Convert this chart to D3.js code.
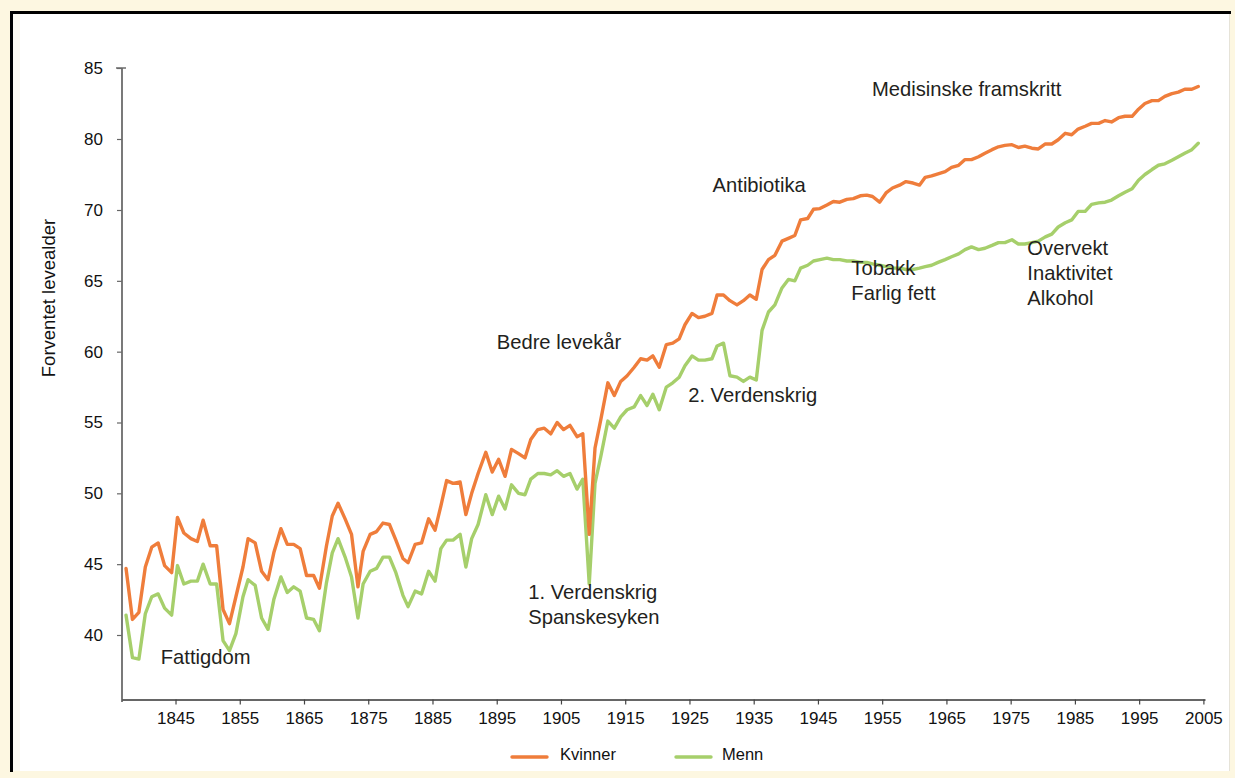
<!DOCTYPE html>
<html>
<head>
<meta charset="utf-8">
<script src="https://cdn.jsdelivr.net/npm/d3@7"></script>
<style>
  html, body { margin: 0; padding: 0; background: #fdf7e1; }
  svg { display: block; }
  text { font-family: "Liberation Sans", Arial, Helvetica, sans-serif; }
</style>
</head>
<body>
<svg id="chart" width="1235" height="778"></svg>
<script>
// ---------------- DATA ----------------
const years = [
  1837.3, 1838.3, 1839.3, 1840.3, 1841.3, 1842.3, 1843.3, 1844.4, 1845.3, 1846.3,
  1847.4, 1848.4, 1849.3, 1850.4, 1851.4, 1852.4, 1853.4, 1854.4, 1855.5, 1856.3,
  1857.4, 1858.4, 1859.4, 1860.3, 1861.4, 1862.4, 1863.4, 1864.4, 1865.4, 1866.5,
  1867.4,
  1868.5, 1869.4, 1870.3, 1871.4, 1872.4, 1873.4, 1874.2, 1875.3, 1876.3, 1877.3,
  1878.3, 1879.3, 1880.4, 1881.2, 1882.3, 1883.3, 1884.4, 1885.4, 1886.3, 1887.2,
  1888.2, 1889.3, 1890.2, 1891.1, 1892.1, 1893.3, 1894.3, 1895.3, 1896.3, 1897.3,
  1898.4, 1899.4, 1900.3, 1901.4, 1902.4, 1903.4, 1904.4, 1905.4, 1906.4, 1907.5,
  1908.4, 1909.4, 1910.3, 1911.2,
  1912.3, 1913.3, 1914.3, 1915.3, 1916.4, 1917.4, 1918.4, 1919.3, 1920.3, 1921.4,
  1922.4, 1923.4, 1924.3, 1925.4, 1926.4, 1927.4, 1928.5, 1929.3, 1930.3, 1931.3,
  1932.4, 1933.4, 1934.4, 1935.4, 1936.3, 1937.3, 1938.3, 1939.4, 1940.4, 1941.4,
  1942.3, 1943.4, 1944.3, 1945.3, 1946.4, 1947.4, 1948.4, 1949.5, 1950.5, 1951.6,
  1952.6, 1953.5, 1954.6, 1955.6, 1956.6, 1957.7, 1958.7, 1959.8, 1960.8, 1961.7,
  1962.7, 1963.7, 1964.8,
  1965.8, 1966.9, 1967.9, 1968.9, 1970.0, 1971.0, 1972.1, 1973.1, 1974.1, 1975.2,
  1976.2, 1977.2, 1978.3, 1979.3, 1980.4, 1981.4, 1982.4, 1983.5, 1984.5, 1985.5,
  1986.6, 1987.6, 1988.7, 1989.7, 1990.7, 1991.8, 1992.8, 1993.9, 1994.9, 1995.9,
  1997.0, 1998.0, 1999.0, 2000.1, 2001.1, 2002.1, 2003.2, 2004.2
];

const kvinner = [
  44.7, 41.1, 41.6, 44.8, 46.2, 46.5, 44.9, 44.4, 48.3, 47.2,
  46.8, 46.6, 48.1, 46.3, 46.3, 41.8, 40.8, 42.7, 44.8, 46.8,
  46.5, 44.5, 43.9, 45.8, 47.5, 46.4, 46.4, 46.1, 44.2, 44.2,
  43.3,
  46.3, 48.4, 49.3, 48.2, 47.1, 43.4, 45.9, 47.1, 47.3, 47.9,
  47.8, 46.7, 45.4, 45.1, 46.4, 46.5, 48.2, 47.4, 49.1, 50.9,
  50.7, 50.8, 48.5, 50.0, 51.4, 52.9, 51.5, 52.4, 51.2, 53.1,
  52.8, 52.5, 53.8, 54.5, 54.6, 54.2, 55.0, 54.5, 54.8, 54.0,
  54.2, 47.1, 53.2, 55.2,
  57.8, 56.9, 57.9, 58.3, 58.9, 59.5, 59.4, 59.7, 58.9, 60.5,
  60.6, 60.9, 61.9, 62.7, 62.4, 62.5, 62.7, 64.0, 64.0, 63.6,
  63.3, 63.6, 64.0, 63.7, 65.8, 66.5, 66.8, 67.8, 68.0, 68.2,
  69.3, 69.4, 70.1, 70.2, 70.7, 71.2, 71.1, 71.5, 71.6, 72.0,
  72.1, 71.9, 71.1, 72.4, 73.1, 73.5, 74.0, 73.8, 73.5, 74.6,
  74.8, 75.1, 75.4,
  76.0, 76.3, 77.1, 77.1, 77.5, 78.0, 78.5, 78.9, 79.1, 79.2,
  78.8, 79.0, 78.7, 78.6, 79.3, 79.3, 79.9, 80.4, 80.3, 80.7,
  80.9, 81.1, 81.1, 81.3, 81.2, 81.5, 81.6, 81.6, 82.1, 82.5,
  82.7, 82.7, 83.0, 83.2, 83.3, 83.5, 83.5, 83.7
];

const menn = [
  41.4, 38.4, 38.3, 41.5, 42.7, 42.9, 41.9, 41.4, 44.9, 43.6,
  43.8, 43.8, 45.0, 43.6, 43.6, 39.6, 38.9, 40.1, 42.7, 43.9,
  43.5, 41.2, 40.4, 42.5, 44.1, 43.0, 43.4, 43.1, 41.2, 41.1,
  40.3,
  43.7, 45.8, 46.8, 45.5, 44.1, 41.2, 43.6, 44.5, 44.7, 45.5,
  45.5, 44.4, 42.8, 42.0, 43.1, 42.9, 44.5, 43.8, 46.1, 46.7,
  46.7, 47.1, 44.8, 46.8, 47.8, 49.9, 48.5, 49.8, 48.9, 50.6,
  50.0, 49.9, 51.0, 51.4, 51.4, 51.3, 51.6, 51.2, 51.4, 50.3,
  51.0, 43.6, 50.7, 52.6,
  55.1, 54.6, 55.4, 55.9, 56.1, 56.9, 56.2, 57.0, 55.9, 57.5,
  57.8, 58.2, 59.0, 59.7, 59.4, 59.4, 59.5, 60.4, 60.6, 58.3,
  58.2, 57.9, 58.2, 58.0, 61.5, 62.8, 63.3, 64.5, 65.1, 65.0,
  65.9, 66.1, 66.4, 66.5, 66.6, 66.5, 66.5, 66.4, 66.4, 66.3,
  66.3, 66.2, 66.1, 66.0, 65.9, 65.9, 65.8, 65.8, 65.9, 66.0,
  66.1, 66.3, 66.5,
  66.7, 66.9, 67.2, 67.4, 67.2, 67.3, 67.5, 67.7, 67.7, 67.9,
  67.6, 67.6, 67.7, 67.8, 68.1, 68.3, 68.8, 69.1, 69.3, 69.9,
  69.9, 70.8, 71.0, 71.1, 71.4, 72.0, 72.5, 73.0, 74.2, 75.0,
  75.7, 76.3, 76.5, 77.0, 77.5, 78.0, 78.5, 79.4
];

const seriesNames = ["Kvinner", "Menn"];
const xTickYears = [1845, 1855, 1865, 1875, 1885, 1895, 1905, 1915, 1925, 1935, 1945, 1955, 1965, 1975, 1985, 1995, 2005];
const yTickValues = [40, 45, 50, 55, 60, 65, 70, 80, 85];
const yTickLabels = ["40", "45", "50", "55", "60", "65", "70", "80", "85"];
const yTitle = "Forventet levealder";

const annotationTexts = [
  ["Fattigdom"],
  ["Bedre levekår"],
  ["1. Verdenskrig", "Spanskesyken"],
  ["2. Verdenskrig"],
  ["Antibiotika"],
  ["Tobakk", "Farlig fett"],
  ["Medisinske framskritt"],
  ["Overvekt", "Inaktivitet", "Alkohol"]
];
// anchor (year, value) of first line's left baseline, in chart units
const annotationAnchors = [
  [1842.7, 37.95],
  [1895.0, 60.2],
  [1899.9, 42.55],
  [1924.8, 56.45],
  [1928.6, 72.6],
  [1950.2, 65.4],
  [1953.4, 83.0],
  [1977.6, 66.8]
];

// ---------------- LAYOUT ----------------
const svg = d3.select("#chart");
const W = 1235, H = 778;
const colors = { Kvinner: "#ef7d3b", Menn: "#a6cf6b" };

// background frame
svg.append("rect").attr("x", 0).attr("y", 0).attr("width", W).attr("height", H).attr("fill", "#fdf7e1");
svg.append("rect").attr("x", 12).attr("y", 13).attr("width", 1218).attr("height", 758).attr("fill", "#ffffff");
svg.append("rect").attr("x", 12).attr("y", 13).attr("width", 8).attr("height", 758).attr("fill", "#fcfaf1");
svg.append("line").attr("x1", 1229.5).attr("x2", 1229.5).attr("y1", 13).attr("y2", 771)
  .attr("stroke", "#e6e3d8").attr("stroke-width", 1);
svg.append("path").attr("d", "M11.5,772 V12.5 H1231")
  .attr("fill", "none").attr("stroke", "#000").attr("stroke-width", 3);

// scales
const x = d3.scaleLinear().domain([1836.67, 2005.25]).range([122, 1205]);
const y = d3.scaleLinear().domain([40, 70, 80, 85]).range([635, 210, 139, 68]);

// Y axis
const yAxis = d3.axisLeft(y)
  .tickValues(yTickValues)
  .tickFormat((d, i) => yTickLabels[i])
  .tickSize(5)
  .tickSizeOuter(0)
  .tickPadding(14);
const gy = svg.append("g").attr("transform", "translate(122,0)").call(yAxis);
gy.select(".domain").remove();
gy.selectAll(".tick line").attr("stroke", "#666").attr("stroke-width", 1.2);
gy.selectAll(".tick text").attr("font-size", 17).attr("fill", "#111")
  .style("font-family", '"Liberation Sans", Arial, sans-serif');
gy.append("line").attr("x1", 0).attr("x2", 0).attr("y1", y(85)).attr("y2", 702)
  .attr("stroke", "#6b6b6b").attr("stroke-width", 1.8);
gy.append("line").attr("x1", -6).attr("x2", 4).attr("y1", y(85)).attr("y2", y(85))
  .attr("stroke", "#6b6b6b").attr("stroke-width", 1.5);

// X axis
const xAxis = d3.axisBottom(x)
  .tickValues(xTickYears)
  .tickFormat(d3.format("d"))
  .tickSize(5)
  .tickSizeOuter(0)
  .tickPadding(7);
const gx = svg.append("g").attr("transform", "translate(0,699.5)").call(xAxis);
gx.select(".domain").attr("stroke", "#333").attr("stroke-width", 1.4);
gx.selectAll(".tick line").attr("stroke", "#444").attr("stroke-width", 1.2);
gx.selectAll(".tick text").attr("font-size", 17).attr("fill", "#111")
  .style("font-family", '"Liberation Sans", Arial, sans-serif');

// Y title
svg.append("text")
  .attr("transform", "translate(55,298) rotate(-90)")
  .attr("text-anchor", "middle")
  .attr("font-size", 18.5)
  .attr("fill", "#111")
  .text(yTitle);

// lines
const series = [
  { name: "Menn", values: menn },
  { name: "Kvinner", values: kvinner }
];
const line = d3.line()
  .x(d => x(d[0]))
  .y(d => y(d[1]));
series.forEach(s => {
  svg.append("path")
    .datum(years.map((yr, i) => [yr, s.values[i]]))
    .attr("fill", "none")
    .attr("stroke", colors[s.name])
    .attr("stroke-width", 3.4)
    .attr("stroke-linejoin", "round")
    .attr("stroke-linecap", "round")
    .attr("d", line);
});

// annotations
annotationTexts.forEach((lines, i) => {
  const [ax, av] = annotationAnchors[i];
  const t = svg.append("text")
    .attr("x", x(ax))
    .attr("y", y(av))
    .attr("font-size", 20.2)
    .attr("fill", "#231f20");
  lines.forEach((ln, j) => {
    t.append("tspan").attr("x", x(ax)).attr("dy", j === 0 ? 0 : 25).text(ln);
  });
});

// legend
const legend = svg.append("g");
const legendItems = [
  { name: seriesNames[0], x0: 512, tx: 560 },
  { name: seriesNames[1], x0: 676, tx: 722 }
];
legendItems.forEach(it => {
  legend.append("line")
    .attr("x1", it.x0).attr("x2", it.x0 + 35)
    .attr("y1", 757).attr("y2", 757)
    .attr("stroke", colors[it.name]).attr("stroke-width", 3.4).attr("stroke-linecap", "round");
  legend.append("text")
    .attr("x", it.tx).attr("y", 759.5)
    .attr("font-size", 16.5).attr("fill", "#111")
    .text(it.name);
});
</script>
</body>
</html>
